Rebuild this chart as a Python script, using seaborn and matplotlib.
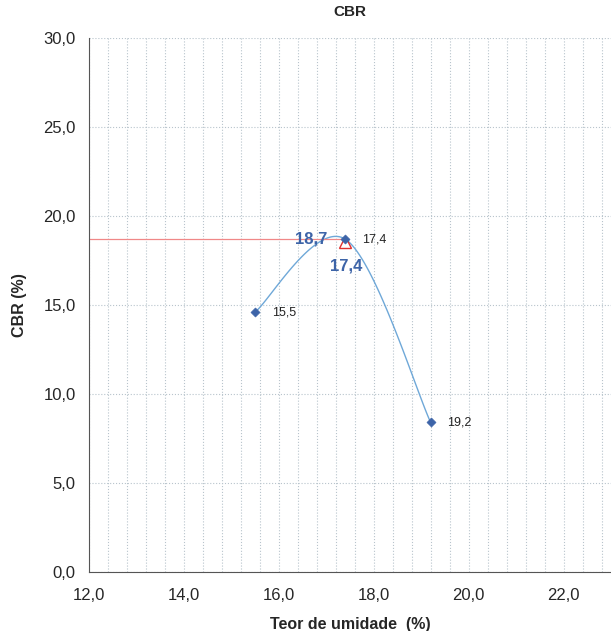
import numpy as np
import pandas as pd
import matplotlib.pyplot as plt
import seaborn as sns
from matplotlib.ticker import MultipleLocator, FuncFormatter

# dados
umidade = [15.5, 17.4, 19.2]
cbr = [14.6, 18.7, 8.4]
rotulos = ["15,5", "17,4", "19,2"]
umidade_otima = 17.4
cbr_max = 18.7

df = pd.DataFrame({"umidade": umidade, "cbr": cbr})

# curva suavizada tipo Excel (bezier com pontos de controle catmull-rom)
pts = df[["umidade", "cbr"]].to_numpy()
curva = []
t = np.linspace(0, 1, 60)[:, None]
for i in range(len(pts) - 1):
    p0, p3 = pts[i], pts[i + 1]
    ant = pts[i - 1] if i > 0 else pts[i]
    prox = pts[i + 2] if i + 2 < len(pts) else pts[i + 1]
    p1 = p0 + (p3 - ant) / 6
    p2 = p3 - (prox - p0) / 6
    seg = (1 - t) ** 3 * p0 + 3 * (1 - t) ** 2 * t * p1 + 3 * (1 - t) * t ** 2 * p2 + t ** 3 * p3
    curva.append(seg)
curva = pd.DataFrame(np.vstack(curva), columns=["umidade", "cbr"])

sns.set_style("white")
plt.rcParams["font.family"] = ["Liberation Sans", "DejaVu Sans"]

fig = plt.figure(figsize=(6.11, 6.31), dpi=100)
ax = fig.add_axes([89 / 611, 59 / 631, 522 / 611, 534 / 631])

sns.lineplot(data=curva, x="umidade", y="cbr", ax=ax, color="#6fa8d8", lw=1.0, sort=False)
sns.scatterplot(data=df, x="umidade", y="cbr", ax=ax, marker="D", s=22, color="#3d64a8",
                edgecolor="#3d64a8", zorder=5)

ax.plot([12, umidade_otima], [cbr_max, cbr_max], color="#f08888", lw=0.9, zorder=2)
ax.plot([umidade_otima], [cbr_max - 0.15], marker="^", ms=9, mfc="none", mec="#e03030", mew=1.0,
        zorder=4)

for x, y, r in zip(umidade, cbr, rotulos):
    ax.annotate(r, (x, y), xytext=(12, 0), textcoords="offset points", fontsize=9,
                va="center", ha="left", color="#222222")
ax.annotate("18,7", (umidade_otima, cbr_max), xytext=(-24.5, 0), textcoords="offset points",
            fontsize=12, fontweight="bold", color="#3d64a8", ha="center", va="center")
ax.annotate("17,4", (umidade_otima, cbr_max), xytext=(0.5, -19), textcoords="offset points",
            fontsize=12, fontweight="bold", color="#3d64a8", ha="center", va="center")

ax.set_xlim(12, 23)
ax.set_ylim(0, 30)
ax.xaxis.set_major_locator(MultipleLocator(2))
ax.xaxis.set_minor_locator(MultipleLocator(0.4))
ax.yaxis.set_major_locator(MultipleLocator(5))
ax.yaxis.set_minor_locator(MultipleLocator(1))
fmt = FuncFormatter(lambda v, p: f"{v:.1f}".replace(".", ","))
ax.xaxis.set_major_formatter(fmt)
ax.yaxis.set_major_formatter(fmt)

ax.grid(which="minor", axis="x", color="#b8c4cc", ls=":", lw=0.8)
ax.grid(which="major", axis="x", color="#b8c4cc", ls=":", lw=0.8)
ax.grid(which="major", axis="y", color="#b8c4cc", ls=":", lw=0.8)

for s in ["top", "right"]:
    ax.spines[s].set_visible(False)
for s in ["left", "bottom"]:
    ax.spines[s].set_color("#555555")
    ax.spines[s].set_linewidth(0.8)
ax.tick_params(which="both", direction="inout", color="#555555", labelsize=12)
ax.tick_params(axis="x", pad=8)
ax.tick_params(axis="y", pad=6)
ax.tick_params(which="major", length=7, width=0.8)
ax.tick_params(which="minor", length=6, width=0.8)

ax.set_xlabel("Teor de umidade  (%)", fontsize=11.5, fontweight="bold", labelpad=10)
ax.set_ylabel("CBR (%)", fontsize=11.5, fontweight="bold", labelpad=12)
ax.set_title("CBR", fontsize=11, fontweight="bold", pad=16)

fig.savefig("out.png", dpi=100)
